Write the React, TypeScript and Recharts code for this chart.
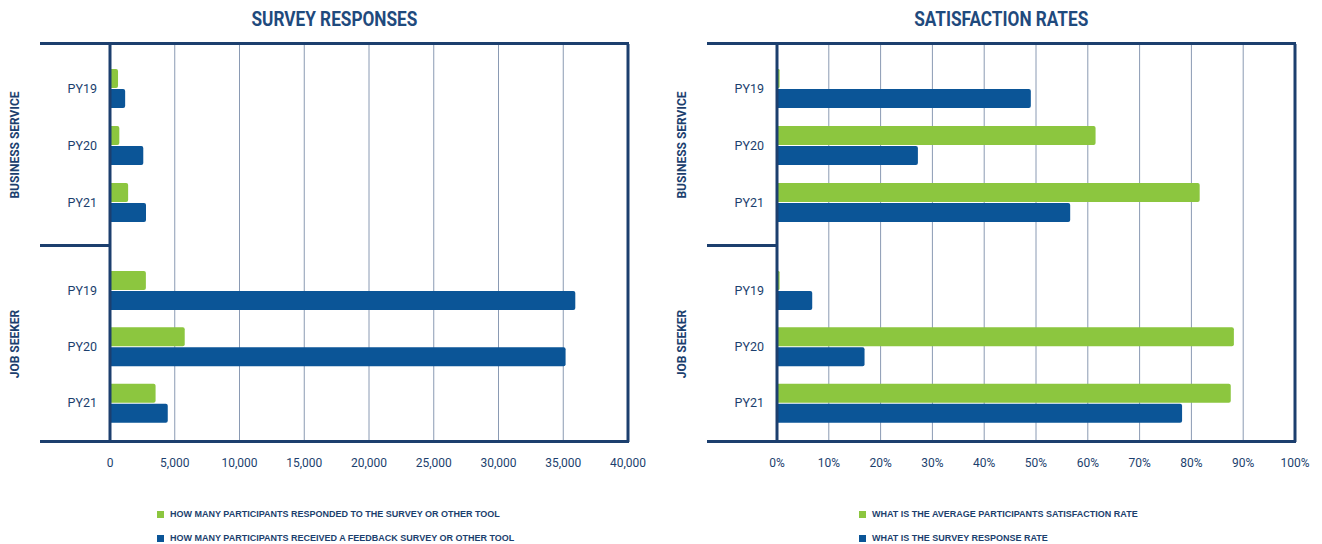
import React from 'react';
import { BarChart, Bar, XAxis, YAxis, CartesianGrid, Legend, ReferenceLine } from 'recharts';

// ---------- data ----------
const years = ['PY19', 'PY20', 'PY21'];
const groupNames = ['BUSINESS SERVICE', 'JOB SEEKER'];

const bsResponded = [620, 720, 1400];
const bsReceived = [1170, 2570, 2780];
const jsResponded = [2770, 5770, 3520];
const jsReceived = [35930, 35180, 4460];

const bsSatisfaction = [0.5, 61.5, 81.6];
const bsResponseRate = [49.0, 27.2, 56.6];
const jsSatisfaction = [0.5, 88.2, 87.6];
const jsResponseRate = [6.8, 16.9, 78.2];

const countTicks = [0, 5000, 10000, 15000, 20000, 25000, 30000, 35000, 40000];
const pctTicks = [0, 10, 20, 30, 40, 50, 60, 70, 80, 90, 100];

const surveyNames = [
  'HOW MANY PARTICIPANTS RESPONDED TO THE SURVEY OR OTHER TOOL',
  'HOW MANY PARTICIPANTS RECEIVED A FEEDBACK SURVEY OR OTHER TOOL',
];
const rateNames = [
  'WHAT IS THE AVERAGE PARTICIPANTS SATISFACTION RATE',
  'WHAT IS THE SURVEY RESPONSE RATE',
];

// ---------- style ----------
const NAVY = '#1c3f6e';
const TITLE = '#1f4a7d';
const GREEN = '#8cc63f';
const BLUE = '#0b5597';
const GRID = '#8a9ab3';
const COND = "Roboto, 'Liberation Sans', sans-serif";
const SANS = "'Liberation Sans', Arial, sans-serif";

const build = (a: number[], b: number[]) => years.map((y, i) => ({ year: y, a: a[i], b: b[i] }));

const fmtCount = (v: number) => v.toLocaleString('en-US');
const fmtPct = (v: number) => `${v}%`;

const GroupLabel = (text: string) => (props: any) => {
  const vb = props.viewBox || {};
  const x = vb.x + 15;
  const y = vb.y + vb.height / 2;
  return (
    <text
      x={x}
      y={y}
      transform={`rotate(-90 ${x} ${y})`}
      textAnchor="middle"
      dominantBaseline="central"
      fill={NAVY}
      fontFamily={COND}
      fontWeight="bold"
      fontSize={12}
    >
      {text}
    </text>
  );
};

const LegendContent = (props: any) => {
  const items = props.payload || [];
  return (
    <div style={{ display: 'flex', flexDirection: 'column', gap: 12 }}>
      {items.map((it: any) => (
        <div key={it.value} style={{ display: 'flex', alignItems: 'center', height: 12 }}>
          <span style={{ width: 7, height: 7, background: it.color, marginRight: 6, display: 'inline-block' }} />
          <span style={{ fontFamily: SANS, fontWeight: 'bold', fontSize: 9, color: NAVY, whiteSpace: 'nowrap' }}>
            {it.value}
          </span>
        </div>
      ))}
    </div>
  );
};

type PanelProps = {
  x0: number;
  title: string;
  top: any[];
  bottom: any[];
  ticks: number[];
  fmt: (v: number) => string;
  names: string[];
  legendLeft: number;
};

const CHART_W = 660;
const AXIS_W = 110;
const MARGIN_R = 32;

function Panel({ x0, title, top, bottom, ticks, fmt, names, legendLeft }: PanelProps) {
  const max = ticks[ticks.length - 1];
  const line = (l: number, t: number, w: number, h: number) => (
    <div style={{ position: 'absolute', left: x0 + l, top: t, width: w, height: h, background: NAVY }} />
  );
  const common = (label: string, padTop: number, padBottom: number) => [
    <CartesianGrid key="g" horizontal={false} stroke={GRID} strokeWidth={1} />,
    <YAxis
      key="y"
      type="category"
      dataKey="year"
      width={AXIS_W}
      tickSize={0}
      tickMargin={13}
      tickLine={false}
      axisLine={{ stroke: NAVY, strokeWidth: 3 }}
      tick={{ fill: NAVY, fontFamily: COND, fontSize: 12.5 }}
      padding={{ top: padTop, bottom: padBottom }}
      label={{ content: GroupLabel(label) }}
    />,
    <ReferenceLine key="r" x={max} stroke={NAVY} strokeWidth={3} />,
    <Bar key="a" dataKey="a" name={names[0]} fill={GREEN} isAnimationActive={false} radius={[0, 2, 2, 0]} />,
    <Bar key="b" dataKey="b" name={names[1]} fill={BLUE} isAnimationActive={false} radius={[0, 2, 2, 0]} />,
  ];
  return (
    <>
      <div
        style={{
          position: 'absolute',
          left: x0 + 40,
          width: 588,
          top: 7,
          textAlign: 'center',
        }}
      >
        <span
          style={{
            display: 'inline-block',
            fontFamily: COND,
            fontWeight: 'bold',
            fontSize: 20,
            color: TITLE,
            transform: 'scaleX(0.86)',
            transformOrigin: 'center',
          }}
        >
          {title}
        </span>
      </div>
      <div style={{ position: 'absolute', left: x0, top: 44 }}>
        <BarChart
          width={CHART_W}
          height={202}
          data={top}
          layout="vertical"
          margin={{ top: 0, right: MARGIN_R, bottom: 0, left: 0 }}
          barSize={19}
          barGap={1}
        >
          <XAxis type="number" domain={[0, max]} ticks={ticks} hide />
          {common(groupNames[0], 16, 15)}
        </BarChart>
      </div>
      <div style={{ position: 'absolute', left: x0, top: 246 }}>
        <BarChart
          width={CHART_W}
          height={236}
          data={bottom}
          layout="vertical"
          margin={{ top: 0, right: MARGIN_R, bottom: 0, left: 0 }}
          barSize={19}
          barGap={1}
        >
          <XAxis
            type="number"
            domain={[0, max]}
            ticks={ticks}
            height={40}
            tickSize={0}
            tickMargin={16}
            axisLine={false}
            tickLine={false}
            interval={0}
            tickFormatter={fmt}
            tick={{ fill: NAVY, fontFamily: COND, fontSize: 12 }}
          />
          {common(groupNames[1], 16, 11)}
          <Legend
            layout="vertical"
            align="center"
            verticalAlign="middle"
            itemSorter="dataKey"
            content={LegendContent}
            wrapperStyle={{ left: legendLeft, top: 262, width: 'auto' }}
          />
        </BarChart>
      </div>
      {line(40, 42, 589, 3)}
      {line(40, 244, 70, 3)}
      {line(40, 440, 589, 3)}
    </>
  );
}

export default function App() {
  return (
    <div style={{ position: 'absolute', left: 0, top: 0, width: 1322, height: 544, background: '#fff', overflow: 'hidden' }}>
      <Panel
        x0={0}
        title="SURVEY RESPONSES"
        top={build(bsResponded, bsReceived)}
        bottom={build(jsResponded, jsReceived)}
        ticks={countTicks}
        fmt={fmtCount}
        names={surveyNames}
        legendLeft={157}
      />
      <Panel
        x0={667}
        title="SATISFACTION RATES"
        top={build(bsSatisfaction, bsResponseRate)}
        bottom={build(jsSatisfaction, jsResponseRate)}
        ticks={pctTicks}
        fmt={fmtPct}
        names={rateNames}
        legendLeft={192}
      />
    </div>
  );
}
